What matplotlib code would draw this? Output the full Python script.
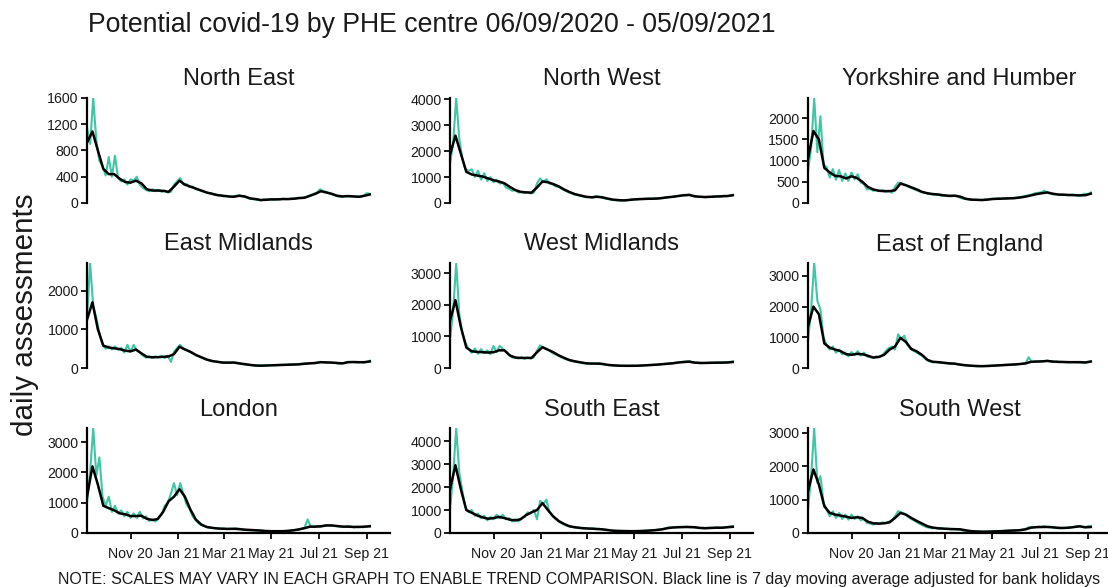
import numpy as np
import pandas as pd
import matplotlib
matplotlib.use("Agg")
import matplotlib.pyplot as plt
import matplotlib.dates as mdates
from matplotlib.ticker import MultipleLocator

plt.rcParams['font.family'] = ['Liberation Sans', 'DejaVu Sans']

regions = ["North East", "North West", "Yorkshire and Humber",
           "East Midlands", "West Midlands", "East of England",
           "London", "South East", "South West"]

start = pd.Timestamp("2020-09-06")
daily_dates = pd.date_range(start, periods=92, freq="4D")
avg_dates = pd.date_range(start, periods=53, freq="7D")

ne_daily = [1150, 900, 1600, 950, 640, 560, 420, 700, 400, 720,
            380, 330, 360, 280, 360, 340, 400, 280, 230, 200,
            180, 210, 180, 200, 170, 190, 160, 170, 280, 330,
            380, 280, 290, 240, 250, 210, 200, 180, 170, 150,
            150, 130, 120, 120, 100, 110, 90, 100, 110, 120,
            100, 90, 70, 60, 55, 45, 40, 55, 50, 60,
            50, 60, 55, 65, 60, 60, 70, 65, 80, 75,
            90, 100, 120, 140, 160, 210, 180, 170, 150, 130,
            110, 100, 90, 110, 100, 105, 95, 100, 90, 110,
            150, 140]
ne_avg = [920, 1090, 800, 520, 440, 440, 370, 320, 310, 340,
          300, 210, 190, 190, 185, 170, 250, 340, 280, 250,
          220, 190, 160, 140, 120, 110, 100, 95, 110, 100,
          70, 60, 45, 50, 55, 55, 60, 60, 65, 75,
          80, 110, 140, 180, 160, 140, 110, 100, 105, 100,
          95, 110, 130]

nw_daily = [1500, 2300, 4050, 2450, 1700, 1300, 1250, 1300, 1000, 1250,
            900, 1150, 850, 1000, 800, 900, 750, 780, 600, 550,
            470, 500, 400, 420, 380, 420, 370, 400, 750, 950,
            800, 920, 750, 720, 640, 620, 540, 480, 420, 380,
            330, 310, 270, 250, 220, 230, 210, 270, 240, 200,
            170, 150, 120, 110, 100, 90, 110, 100, 130, 140,
            130, 160, 150, 160, 170, 160, 180, 175, 190, 210,
            220, 230, 250, 270, 280, 300, 290, 330, 270, 240,
            230, 240, 220, 240, 230, 250, 260, 240, 280, 260,
            270, 310]
nw_avg = [1860, 2600, 1900, 1200, 1100, 1060, 1020, 950, 880, 830,
          760, 620, 500, 430, 410, 400, 600, 830, 800, 730,
          640, 520, 420, 340, 290, 240, 220, 240, 220, 170,
          130, 110, 100, 120, 140, 150, 160, 165, 170, 190,
          220, 240, 270, 300, 310, 260, 240, 230, 240, 250,
          260, 270, 300]

yh_daily = [750, 1300, 2480, 1200, 2050, 900, 850, 600, 800, 550,
            780, 520, 700, 520, 720, 560, 680, 480, 450, 320,
            330, 290, 310, 280, 300, 270, 290, 240, 380, 480,
            470, 430, 400, 360, 330, 300, 270, 250, 230, 210,
            200, 200, 190, 170, 180, 160, 160, 180, 170, 120,
            100, 90, 80, 75, 70, 75, 70, 80, 85, 100,
            95, 110, 100, 110, 105, 115, 110, 130, 140, 150,
            170, 180, 200, 230, 240, 250, 290, 240, 220, 200,
            210, 190, 200, 190, 180, 200, 190, 170, 190, 220,
            200, 250]
yh_avg = [1050, 1700, 1500, 830, 720, 640, 630, 580, 630, 590,
          500, 380, 320, 290, 280, 280, 300, 460, 420, 370,
          320, 260, 230, 210, 200, 180, 170, 170, 150, 100,
          80, 75, 70, 80, 95, 100, 105, 110, 115, 130,
          150, 180, 210, 230, 250, 220, 200, 195, 190, 185,
          180, 185, 220]

em_daily = [1300, 2720, 1600, 1300, 900, 600, 500, 560, 480, 560,
            470, 520, 400, 600, 430, 600, 450, 400, 320, 270,
            300, 260, 300, 280, 310, 260, 320, 160, 420, 520,
            600, 500, 470, 420, 390, 330, 300, 260, 230, 200,
            190, 170, 160, 150, 130, 140, 130, 150, 140, 110,
            100, 90, 80, 70, 60, 55, 65, 60, 70, 65,
            75, 70, 80, 85, 80, 90, 95, 90, 100, 110,
            115, 120, 130, 125, 140, 160, 150, 140, 145, 130,
            130, 110, 120, 140, 160, 155, 150, 145, 150, 140,
            160, 190]
em_avg = [1250, 1700, 1000, 580, 530, 510, 490, 450, 430, 480,
          380, 290, 280, 280, 290, 300, 360, 550, 480, 420,
          340, 280, 220, 180, 160, 140, 140, 140, 120, 100,
          80, 65, 60, 65, 70, 75, 80, 85, 90, 95,
          110, 120, 130, 150, 145, 140, 130, 120, 150, 155,
          150, 150, 170]

wm_daily = [900, 1800, 3330, 1700, 1100, 800, 600, 480, 620, 450,
            600, 470, 560, 440, 700, 500, 700, 600, 520, 420,
            330, 350, 300, 340, 290, 330, 300, 340, 550, 720,
            650, 600, 560, 470, 430, 380, 330, 290, 250, 230,
            200, 190, 160, 150, 140, 130, 150, 130, 160, 120,
            100, 90, 80, 75, 70, 65, 75, 65, 70, 75,
            70, 80, 85, 90, 95, 100, 105, 110, 120, 130,
            135, 145, 160, 170, 185, 195, 210, 220, 180, 160,
            170, 150, 165, 160, 170, 165, 175, 170, 180, 175,
            185, 210]
wm_avg = [1500, 2150, 1300, 650, 530, 510, 500, 490, 500, 560,
          560, 400, 330, 320, 320, 320, 500, 660, 580, 500,
          400, 320, 250, 210, 180, 150, 140, 140, 130, 100,
          85, 75, 70, 70, 70, 75, 85, 95, 105, 120,
          135, 150, 175, 190, 200, 170, 160, 160, 165, 170,
          170, 175, 190]

ee_daily = [900, 1900, 3420, 2200, 1900, 1000, 750, 600, 700, 500,
            600, 450, 500, 380, 520, 420, 550, 400, 500, 380,
            350, 330, 380, 350, 420, 550, 650, 700, 600, 1100,
            950, 1050, 750, 620, 560, 500, 440, 380, 280, 220,
            190, 200, 180, 170, 160, 150, 140, 150, 120, 100,
            90, 80, 70, 65, 60, 55, 60, 65, 70, 75,
            80, 90, 95, 100, 105, 110, 115, 120, 130, 140,
            150, 350, 200, 220, 200, 230, 220, 240, 210, 200,
            210, 190, 200, 190, 185, 195, 190, 185, 180, 170,
            200, 220]
ee_avg = [1350, 2000, 1750, 800, 660, 600, 550, 450, 430, 460,
          450, 400, 340, 360, 430, 600, 700, 980, 850, 620,
          540, 420, 260, 200, 190, 170, 150, 140, 110, 90,
          75, 65, 60, 65, 75, 85, 95, 105, 115, 130,
          150, 200, 210, 215, 230, 210, 200, 195, 190, 190,
          190, 180, 210]

ld_daily = [1000, 2000, 3470, 1900, 2500, 1200, 900, 1200, 700, 900,
            650, 750, 550, 700, 500, 650, 500, 700, 480, 550,
            400, 450, 380, 500, 600, 900, 1000, 1300, 1650, 1250,
            1650, 1300, 950, 800, 550, 420, 310, 250, 220, 180,
            170, 160, 150, 140, 150, 130, 140, 130, 150, 120,
            110, 100, 95, 90, 85, 80, 75, 60, 65, 55,
            60, 55, 65, 60, 70, 75, 90, 100, 110, 140,
            170, 450, 220, 200, 230, 210, 240, 260, 250, 240,
            230, 220, 210, 200, 220, 210, 190, 210, 200, 190,
            210, 240]
ld_avg = [1200, 2200, 1600, 900, 820, 750, 650, 620, 560, 560,
          570, 470, 430, 460, 700, 1050, 1200, 1450, 1200, 780,
          450, 280, 200, 170, 150, 140, 135, 140, 130, 110,
          100, 90, 80, 65, 60, 60, 60, 70, 90, 120,
          160, 210, 210, 220, 250, 250, 230, 210, 210, 200,
          200, 210, 220]

se_daily = [1000, 2500, 4570, 2600, 1800, 1100, 900, 1000, 750, 850,
            650, 750, 550, 700, 600, 800, 650, 800, 600, 650,
            500, 600, 500, 650, 700, 900, 850, 1000, 600, 1400,
            1250, 1450, 900, 750, 600, 500, 420, 350, 300, 280,
            240, 230, 210, 200, 190, 180, 200, 170, 180, 150,
            140, 120, 100, 95, 90, 85, 80, 75, 80, 85,
            80, 90, 95, 100, 110, 120, 130, 150, 160, 190,
            230, 250, 240, 260, 270, 250, 280, 250, 260, 240,
            220, 210, 200, 220, 230, 220, 240, 230, 220, 260,
            280, 300]
se_avg = [1900, 2950, 1900, 1000, 880, 760, 680, 620, 650, 700,
          650, 580, 550, 600, 780, 900, 1000, 1300, 1000, 720,
          520, 390, 290, 250, 220, 200, 190, 175, 160, 130,
          100, 90, 85, 80, 80, 85, 95, 110, 130, 160,
          210, 240, 250, 260, 260, 250, 220, 210, 220, 230,
          230, 250, 270]

sw_daily = [700, 1700, 3140, 1500, 1700, 900, 700, 500, 650, 450,
            600, 420, 550, 400, 550, 420, 500, 380, 420, 300,
            280, 250, 300, 270, 320, 290, 340, 380, 500, 650,
            620, 580, 500, 430, 380, 320, 270, 220, 180, 160,
            140, 150, 130, 140, 120, 130, 110, 120, 110, 100,
            70, 60, 50, 45, 40, 35, 40, 35, 45, 40,
            50, 45, 55, 60, 65, 70, 75, 80, 85, 100,
            120, 170, 180, 170, 190, 175, 200, 180, 190, 160,
            150, 140, 150, 155, 160, 170, 190, 210, 180, 170,
            200, 210]
sw_avg = [1250, 1900, 1450, 800, 600, 550, 520, 490, 450, 470,
          450, 340, 290, 280, 290, 320, 450, 600, 550, 450,
          360, 280, 200, 160, 140, 130, 120, 115, 110, 80,
          55, 45, 40, 40, 45, 50, 60, 70, 75, 85,
          110, 160, 175, 180, 180, 170, 155, 150, 160, 180,
          200, 170, 180]

daily = [ne_daily, nw_daily, yh_daily, em_daily, wm_daily,
         ee_daily, ld_daily, se_daily, sw_daily]
avg = [ne_avg, nw_avg, yh_avg, em_avg, wm_avg,
       ee_avg, ld_avg, se_avg, sw_avg]
ystep = [400, 1000, 500, 1000, 1000, 1000, 1000, 1000, 1000]

xticks = pd.to_datetime(["2020-11-01", "2021-01-01", "2021-03-01",
                         "2021-05-01", "2021-07-01", "2021-09-01"])

W, H = 1108, 587
fig = plt.figure(figsize=(W / 100, H / 100), dpi=100)

lefts = [87, 450, 808]
tops = [98, 263, 428]
aw, ah = 303, 105

for i, name in enumerate(regions):
    r, c = divmod(i, 3)
    ax = fig.add_axes([lefts[c] / W, 1 - (tops[r] + ah) / H, aw / W, ah / H])
    ax.plot(daily_dates, daily[i], color="#40c6a6", lw=1.5, zorder=2)
    ax.plot(avg_dates, avg[i], color="black", lw=1.8, zorder=3)

    ax.set_xlim(start, pd.Timestamp("2021-10-01"))
    ax.set_ylim(0, max(daily[i]))
    ax.yaxis.set_major_locator(MultipleLocator(ystep[i]))

    for s in ["top", "right"]:
        ax.spines[s].set_visible(False)
    ax.spines["left"].set_linewidth(1.6)
    ax.tick_params(axis="y", length=4, width=1.4, pad=2,
                   labelsize=10.2, colors="#1a1a1a")

    if r == 2:
        ax.spines["bottom"].set_linewidth(1.6)
        ax.set_xticks(xticks)
        ax.xaxis.set_major_formatter(mdates.DateFormatter("%b %y"))
        ax.tick_params(axis="x", length=4, width=1.4, pad=6,
                       labelsize=10.2, colors="#1a1a1a")
    else:
        ax.spines["bottom"].set_visible(False)
        ax.set_xticks([])

    ax.set_title(name, fontsize=17, pad=9, color="#1a1a1a")

fig.text(88 / W, 1 - 32 / H, "Potential covid-19 by PHE centre 06/09/2020 - 05/09/2021",
         fontsize=19.2, va="baseline", ha="left", color="#1a1a1a")
fig.text(25 / W, 1 - 315 / H, "daily assessments", rotation=90,
         fontsize=21.3, va="center", ha="center", color="#1a1a1a")
fig.text(58 / W, 1 - 584 / H,
         "NOTE: SCALES MAY VARY IN EACH GRAPH TO ENABLE TREND COMPARISON. "
         "Black line is 7 day moving average adjusted for bank holidays",
         fontsize=11.5, va="baseline", ha="left", color="#1a1a1a")

fig.savefig("out.png", dpi=100)
